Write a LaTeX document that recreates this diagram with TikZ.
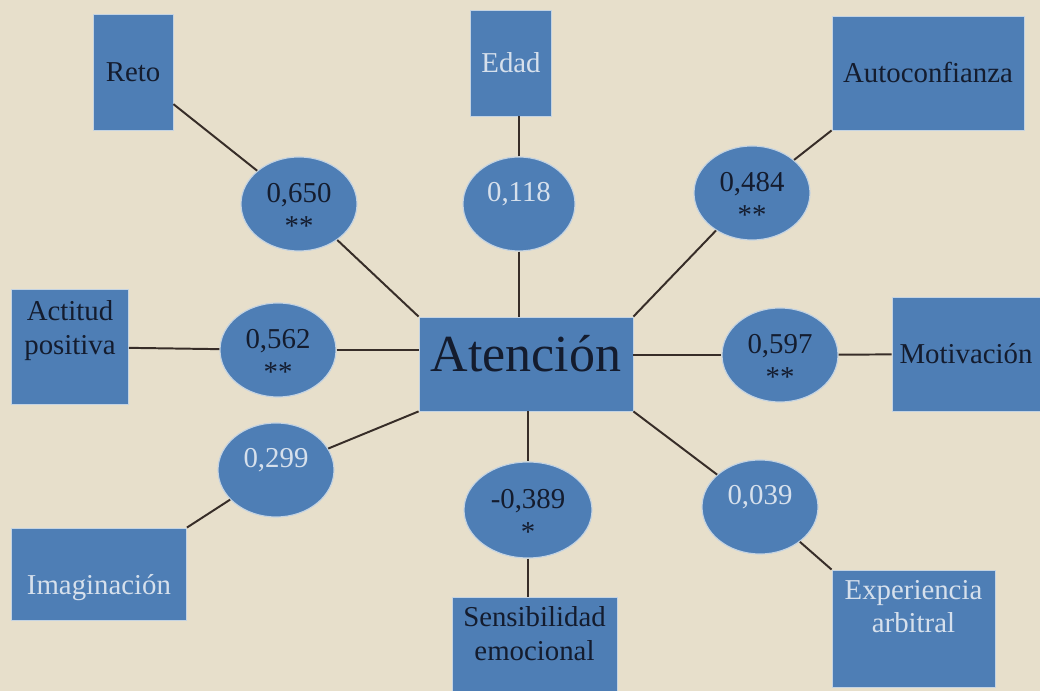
\documentclass[tikz,border=0pt]{standalone}
\usepackage{fontspec}
\setmainfont{Liberation Serif}
\usetikzlibrary{shapes.geometric}

\definecolor{fondo}{RGB}{231,223,203}
\definecolor{azul}{RGB}{78,126,181}
\definecolor{borde}{RGB}{196,211,226}
\definecolor{tinta}{RGB}{20,28,46}
\definecolor{tclaro}{RGB}{214,224,236}
\definecolor{linea}{RGB}{55,45,40}

\tikzset{
  caja/.style={rectangle, fill=azul, draw=borde, line width=0.6pt, inner sep=1mm,
    align=center, text=tinta, font=\fontsize{20.5}{24}\selectfont},
  coef/.style={ellipse, fill=azul, draw=borde, line width=0.8pt, inner sep=0pt,
    minimum width=2.9cm, minimum height=2.35cm, align=center, text=tinta,
    text height=0.55cm, text depth=0.65cm, font=\fontsize{20.5}{24}\selectfont},
  dos/.style={text height=1.6cm, text depth=0cm},
  claro/.style={text=tclaro},
  enlace/.style={draw=linea, line width=1.4pt},
}

\begin{document}
\begin{tikzpicture}
\fill[fondo] (0,0) rectangle (26,-17.275);
\useasboundingbox (0,0) rectangle (26,-17.275);

% variables
\node (reto) at (3.325, -1.8) [caja, minimum width=2cm, minimum height=2.9cm] {Reto};
\node (edad) at (12.775, -1.575) [caja, claro, minimum width=2.025cm, minimum height=2.65cm] {Edad};
\node (auto) at (23.2, -1.825) [caja, minimum width=4.8cm, minimum height=2.85cm] {Autoconfianza};
\node (actitud) at (1.75, -8.675) [caja, minimum width=2.925cm, minimum height=2.875cm, text height=1.1cm, text depth=0.725cm] {Actitud\\positiva};
\node (aten) at (13.15, -9.1) [caja, minimum width=5.35cm, minimum height=2.35cm, text height=0.9cm, text depth=0.5cm, font=\fontsize{37}{44}\selectfont] {Atención};
\node (motiv) at (24.15, -8.85) [caja, minimum width=3.7cm, minimum height=2.85cm] {Motivación};
\node (imag) at (2.475, -14.35) [caja, claro, minimum width=4.375cm, minimum height=2.3cm, text height=1.2cm, text depth=0.15cm] {Imaginación};
\node (sens) at (13.3625, -16.1) [caja, minimum width=4.125cm, minimum height=2.35cm, text height=1.2cm, text depth=0.4cm] {Sensibilidad\\emocional};
\node (exp) at (22.8375, -15.7125) [caja, claro, minimum width=4.075cm, minimum height=2.925cm, text height=1.0cm, text depth=0.775cm] {Experiencia\\arbitral};

% correlaciones
\node (e650) at (7.475, -5.1) [coef, dos] {0,650\\**};
\node (e118) at (12.975, -5.1) [coef, claro, minimum width=2.8cm] {0,118};
\node (e484) at (18.8, -4.825) [coef, dos] {0,484\\**};
\node (e562) at (6.95, -8.75) [coef, dos] {0,562\\**};
\node (e597) at (19.5, -8.875) [coef, dos] {0,597\\**};
\node (e299) at (6.9, -11.75) [coef, claro] {0,299};
\node (e389) at (13.2, -12.75) [coef, dos, minimum width=3.2cm, minimum height=2.4cm] {-0,389\\*};
\node (e039) at (19.0, -12.675) [coef, claro] {0,039};

\draw[enlace] (reto) -- (e650);
\draw[enlace] (e650) -- (aten.north west);
\draw[enlace] (e118) -- (e118 |- edad.south);
\draw[enlace] (e118) -- (e118 |- aten.north);
\draw[enlace] (auto.south west) -- (e484);
\draw[enlace] (e484) -- (aten.north east);
\draw[enlace] (actitud) -- (e562);
\draw[enlace] (e562) -- (e562 -| aten.west);
\draw[enlace] (aten.east |- e597) -- (e597);
\draw[enlace] (e597) -- (motiv);
\draw[enlace] (e299) -- (aten.south west);
\draw[enlace] (e299) -- (imag.north east);
\draw[enlace] (aten.south -| e389) -- (e389);
\draw[enlace] (e389) -- (e389 |- sens.north);
\draw[enlace] (aten.south east) -- (e039);
\draw[enlace] (e039) -- (exp.north west);
\end{tikzpicture}
\end{document}
